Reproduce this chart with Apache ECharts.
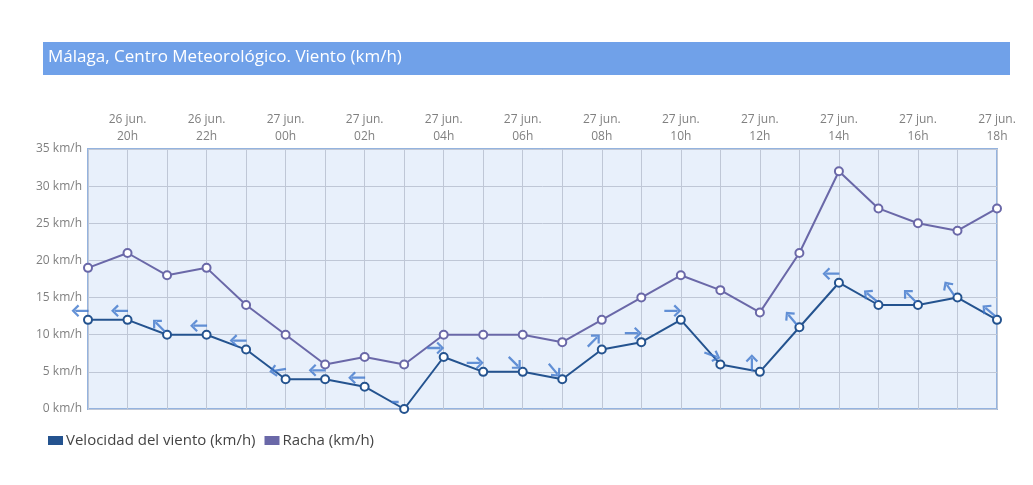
<!DOCTYPE html>
<html>
<head>
<meta charset="utf-8">
<script src="https://cdn.jsdelivr.net/npm/echarts@6/dist/echarts.min.js"></script>
<style>
html,body{margin:0;padding:0;background:#fff;}
#c{width:1033px;height:485px;}
</style>
</head>
<body>
<div id="c"></div>
<script>
const categories = ['26 jun.\n19h','26 jun.\n20h','26 jun.\n21h','26 jun.\n22h','26 jun.\n23h','27 jun.\n00h','27 jun.\n01h','27 jun.\n02h','27 jun.\n03h','27 jun.\n04h','27 jun.\n05h','27 jun.\n06h','27 jun.\n07h','27 jun.\n08h','27 jun.\n09h','27 jun.\n10h','27 jun.\n11h','27 jun.\n12h','27 jun.\n13h','27 jun.\n14h','27 jun.\n15h','27 jun.\n16h','27 jun.\n17h','27 jun.\n18h'];
const velocidad = [12,12,10,10,8,4,4,3,0,7,5,5,4,8,9,12,6,5,11,17,14,14,15,12];
const racha = [19,21,18,19,14,10,6,7,6,10,10,10,9,12,15,18,16,13,21,32,27,25,24,27];
// arrow direction (degrees, counter-clockwise from pointing right); null = calm
const direccion = [180,180,135,180,180,190,180,180,null,0,0,-45,-50,45,0,0,-20,90,130,180,140,135,125,140];

const arrowPath = 'path://M0.5,6.2 L16,6.2 L16,8.8 L0.5,8.8 Z M20,7.5 L12.8,0.3 L11,2.1 L16.4,7.5 L11,12.9 L12.8,14.7 Z';

const arrowData = velocidad.map((v, i) => {
  const d = direccion[i];
  if (d === null) {
    return { value: [i, v], symbol: 'rect', symbolSize: [7, 2.5], symbolRotate: 0, symbolOffset: [-9, -7] };
  }
  return { value: [i, v], symbol: arrowPath, symbolSize: [17, 12.5], symbolRotate: d, symbolOffset: [-8, -9] };
});

const chart = echarts.init(document.getElementById('c'), null, { renderer: 'canvas' });
const font = "'Open Sans', 'Noto Sans', sans-serif";
chart.setOption({
  animation: false,
  textStyle: { fontFamily: font },
  graphic: [
    { type: 'rect', left: 43, top: 42, shape: { width: 967, height: 33 }, style: { fill: '#70a1e9' }, silent: true },
    { type: 'text', left: 48, top: 49, style: { text: 'Málaga, Centro Meteorológico. Viento (km/h)', fill: '#ffffff', font: "17px 'Open Sans', sans-serif" } }
  ],
  grid: {
    left: 88, right: 36, top: 149, bottom: 76,
    show: true, backgroundColor: '#e8f0fb', borderColor: '#94b3df', borderWidth: 2
  },
  legend: {
    left: 43, top: 428, itemWidth: 15, itemHeight: 9, itemGap: 9,
    textStyle: { color: '#444', fontSize: 15, fontFamily: font, padding: [0, 0, 0, -2] },
    data: [
      { name: 'Velocidad del viento (km/h)', icon: 'rect', itemStyle: { color: '#24538f', borderWidth: 0 } },
      { name: 'Racha (km/h)', icon: 'rect', itemStyle: { color: '#6a68a8', borderWidth: 0 } }
    ]
  },
  xAxis: {
    type: 'category', position: 'top', boundaryGap: false, data: categories,
    axisLine: { show: false }, axisTick: { show: false },
    axisLabel: {
      interval: i => i % 2 === 1, color: '#808080', fontSize: 12, lineHeight: 17, margin: 4,
      fontFamily: font
    },
    splitLine: { show: true, interval: 0, lineStyle: { color: '#bfc7d6', width: 1 } }
  },
  yAxis: {
    type: 'value', min: 0, max: 35, interval: 5,
    axisLine: { show: false }, axisTick: { show: false },
    axisLabel: { formatter: '{value} km/h', color: '#808080', fontSize: 12, margin: 6, fontFamily: font },
    splitLine: { lineStyle: { color: '#bfc7d6', width: 1 } }
  },
  series: [
    {
      name: 'Racha (km/h)', type: 'line', data: racha, z: 3,
      symbol: 'circle', symbolSize: 8, color: '#6a68a8',
      lineStyle: { color: '#6a68a8', width: 2 },
      itemStyle: { color: '#ffffff', borderColor: '#6a68a8', borderWidth: 2 }
    },
    {
      name: 'Velocidad del viento (km/h)', type: 'line', data: velocidad, z: 4,
      symbol: 'circle', symbolSize: 8, color: '#24538f',
      lineStyle: { color: '#24538f', width: 2 },
      itemStyle: { color: '#ffffff', borderColor: '#24538f', borderWidth: 2 }
    },
    {
      name: 'Dirección', type: 'scatter', data: arrowData, z: 5,
      itemStyle: { color: '#3f77cc' }, silent: true
    }
  ]
});
</script>
</body>
</html>
